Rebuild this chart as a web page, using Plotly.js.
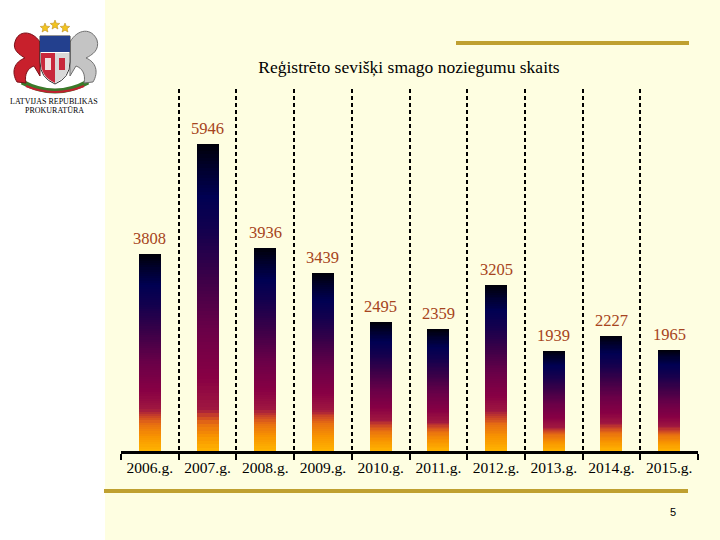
<!DOCTYPE html>
<html>
<head>
<meta charset="utf-8">
<script src="https://cdn.plot.ly/plotly-3.0.1.min.js"></script>
<style>
  html, body { margin: 0; padding: 0; background: #FEFEE1; }
  #chart { width: 720px; height: 540px; }
</style>
</head>
<body>
<div id="chart"></div>
<script>
// ---- data ----
const categories = ['2006.g.', '2007.g.', '2008.g.', '2009.g.', '2010.g.', '2011.g.', '2012.g.', '2013.g.', '2014.g.', '2015.g.'];
const values = [3808, 5946, 3936, 3439, 2495, 2359, 3205, 1939, 2227, 1965];
const labels = values.map(String);
const chartTitle = 'Reģistrēto sevišķi smago noziegumu skaits';
const orgLine1 = 'LATVIJAS REPUBLIKAS';
const orgLine2 = 'PROKURATŪRA';
const pageNumber = '5';

// ---- geometry helpers (pixel -> paper) ----
const L = 121, R = 698, T = 89, B = 451;
const W = R - L, H = B - T;
const px = x => (x - L) / W;
const py = y => (B - y) / H;
const P = (x, y) => px(x).toFixed(5) + ',' + py(y).toFixed(5);

// ---- gradient helpers ----
function hex2rgb(h) { return [parseInt(h.slice(1,3),16), parseInt(h.slice(3,5),16), parseInt(h.slice(5,7),16)]; }
function interp(stops, t) {
  t = Math.max(0, Math.min(1, t));
  for (let i = 0; i < stops.length - 1; i++) {
    const a = stops[i], b = stops[i+1];
    if (t >= a[0] && t <= b[0]) {
      const f = (t - a[0]) / (b[0] - a[0] || 1);
      const ca = hex2rgb(a[1]), cb = hex2rgb(b[1]);
      const c = ca.map((v, k) => Math.round(v + (cb[k] - v) * f));
      return 'rgb(' + c.join(',') + ')';
    }
  }
  return stops[stops.length-1][1];
}
const lowStops = [[0,'#FFB400'],[0.35,'#F89400'],[0.65,'#E87010'],[0.85,'#C84028'],[1,'#A01840']];
const highStops = [[0,'#A01840'],[0.12,'#880044'],[0.3,'#6A0048'],[0.5,'#3A0048'],[0.68,'#12004E'],[0.8,'#000052'],[0.9,'#000030'],[1,'#000008']];
function barColor(h, V) {
  const band = Math.min(0.24 * V, 800);
  if (h < band) return interp(lowStops, h / band);
  return interp(highStops, (h - band) / (V - band));
}

// ---- traces: each bar drawn as stacked slices to give a vertical gradient ----
const N = 90;
const traces = [];
for (let k = 0; k < N; k++) {
  traces.push({
    type: 'bar',
    x: categories,
    y: values.map(v => v / N),
    marker: {
      color: values.map(v => barColor((k + 0.5) / N * v, v)),
      line: { width: 0 }
    },
    hoverinfo: 'skip',
    showlegend: false
  });
}

// ---- decorative shapes ----
function star(cx, cy, r) {
  let d = '';
  for (let i = 0; i < 10; i++) {
    const a = -Math.PI / 2 + i * Math.PI / 5;
    const rr = i % 2 === 0 ? r : r * 0.45;
    d += (i === 0 ? 'M' : 'L') + P(cx + rr * Math.cos(a), cy + rr * Math.sin(a));
  }
  return d + 'Z';
}
const gold = '#BFA030';
const shapes = [
  { type: 'rect', xref: 'paper', yref: 'paper', x0: px(0), x1: px(105), y0: py(545), y1: py(-5), fillcolor: '#FFFFFF', line: { width: 0 }, layer: 'below' },
  { type: 'line', xref: 'paper', yref: 'paper', x0: px(456), x1: px(689), y0: py(43), y1: py(43), line: { color: gold, width: 4 } },
  { type: 'line', xref: 'paper', yref: 'paper', x0: px(104), x1: px(688), y0: py(491), y1: py(491), line: { color: gold, width: 4 } },
  // coat of arms (simplified)
  { type: 'path', xref: 'paper', yref: 'paper', path: 'M' + P(22,82) + 'Q' + P(55,100) + ' ' + P(88,82), line: { color: '#3A7A2A', width: 5 }, fillcolor: 'rgba(0,0,0,0)' },
  { type: 'path', xref: 'paper', yref: 'paper', path: 'M' + P(26,86) + 'Q' + P(55,98) + ' ' + P(84,86), line: { color: '#C02030', width: 2 }, fillcolor: 'rgba(0,0,0,0)' },
  { type: 'path', xref: 'paper', yref: 'paper', path: 'M' + P(40,42) + 'C' + P(32,30) + ' ' + P(18,30) + ' ' + P(15,42) + 'C' + P(12,50) + ' ' + P(20,55) + ' ' + P(25,58) + 'C' + P(14,62) + ' ' + P(11,72) + ' ' + P(17,82) + 'L' + P(26,83) + 'C' + P(24,74) + ' ' + P(28,68) + ' ' + P(34,66) + 'L' + P(40,76) + 'Z', fillcolor: '#C8202C', line: { color: '#7A1018', width: 1 } },
  { type: 'path', xref: 'paper', yref: 'paper', path: 'M' + P(70,42) + 'C' + P(78,28) + ' ' + P(92,28) + ' ' + P(97,40) + 'C' + P(100,50) + ' ' + P(92,55) + ' ' + P(86,58) + 'C' + P(96,62) + ' ' + P(99,72) + ' ' + P(93,82) + 'L' + P(84,83) + 'C' + P(86,74) + ' ' + P(82,68) + ' ' + P(76,66) + 'L' + P(70,76) + 'Z', fillcolor: '#C4C4C4', line: { color: '#707070', width: 1 } },
  { type: 'path', xref: 'paper', yref: 'paper', path: 'M' + P(40,36) + 'L' + P(70,36) + 'L' + P(70,62) + 'Q' + P(70,78) + ' ' + P(55,84) + 'Q' + P(40,78) + ' ' + P(40,62) + 'Z', fillcolor: '#FFFFFF', line: { color: '#333333', width: 1 } },
  { type: 'path', xref: 'paper', yref: 'paper', path: 'M' + P(40,36) + 'L' + P(70,36) + 'L' + P(70,52) + 'L' + P(40,52) + 'Z', fillcolor: '#23408E', line: { width: 0 } },
  { type: 'path', xref: 'paper', yref: 'paper', path: 'M' + P(46,52) + 'A8,8 0 0 1 ' + P(64,52) + 'Z', fillcolor: '#F2C420', line: { width: 0 } },
  { type: 'path', xref: 'paper', yref: 'paper', path: 'M' + P(41,53) + 'L' + P(55,53) + 'L' + P(55,83) + 'Q' + P(41,77) + ' ' + P(41,62) + 'Z', fillcolor: '#C8283C', line: { width: 0 } },
  { type: 'path', xref: 'paper', yref: 'paper', path: 'M' + P(55,53) + 'L' + P(69,53) + 'L' + P(69,62) + 'Q' + P(69,77) + ' ' + P(55,83) + 'Z', fillcolor: '#D8D8D8', line: { width: 0 } },
  { type: 'path', xref: 'paper', yref: 'paper', path: 'M' + P(45,58) + 'L' + P(51,58) + 'L' + P(51,70) + 'L' + P(45,70) + 'Z', fillcolor: '#F0E0E0', line: { width: 0 } },
  { type: 'path', xref: 'paper', yref: 'paper', path: 'M' + P(59,58) + 'L' + P(65,58) + 'L' + P(65,70) + 'L' + P(59,70) + 'Z', fillcolor: '#C8283C', line: { width: 0 } },
  { type: 'path', xref: 'paper', yref: 'paper', path: star(45, 28, 5), fillcolor: '#F2C420', line: { color: '#B08010', width: 0.5 } },
  { type: 'path', xref: 'paper', yref: 'paper', path: star(55, 25, 5), fillcolor: '#F2C420', line: { color: '#B08010', width: 0.5 } },
  { type: 'path', xref: 'paper', yref: 'paper', path: star(65, 28, 5), fillcolor: '#F2C420', line: { color: '#B08010', width: 0.5 } }
];

const annotations = [
  { xref: 'paper', yref: 'paper', x: px(54), y: py(101), text: orgLine1, showarrow: false, xanchor: 'center', yanchor: 'middle', font: { family: 'Liberation Serif', size: 8, color: '#000000' } },
  { xref: 'paper', yref: 'paper', x: px(54), y: py(111), text: orgLine2, showarrow: false, xanchor: 'center', yanchor: 'middle', font: { family: 'Liberation Serif', size: 8, color: '#000000' } },
  { xref: 'paper', yref: 'paper', x: px(673), y: py(512), text: pageNumber, showarrow: false, xanchor: 'center', yanchor: 'middle', font: { family: 'Liberation Sans', size: 11, color: '#000000' } }
];
// value labels above bars, positioned from the data
categories.forEach((c, i) => {
  annotations.push({
    xref: 'x', yref: 'y', x: c, y: values[i], text: labels[i], showarrow: false,
    xanchor: 'center', yanchor: 'bottom', yshift: 4,
    font: { family: 'Liberation Serif', size: 16.5, color: '#A64420' }
  });
});

const layout = {
  width: 720,
  height: 540,
  paper_bgcolor: '#FEFEE1',
  plot_bgcolor: 'rgba(0,0,0,0)',
  margin: { l: L, r: 720 - R, t: T, b: 540 - B, pad: 0 },
  barmode: 'stack',
  bargap: 0.62,
  showlegend: false,
  title: {
    text: chartTitle,
    x: 409 / 720,
    xanchor: 'center',
    y: 1 - 67 / 540,
    yanchor: 'middle',
    font: { family: 'Liberation Serif', size: 17.5, color: '#000000' }
  },
  xaxis: {
    type: 'category',
    tickson: 'boundaries',
    showgrid: true,
    gridcolor: '#000000',
    gridwidth: 2,
    griddash: '4px,3px',
    showline: true,
    linecolor: '#000000',
    linewidth: 3,
    ticks: 'outside',
    ticklen: 6,
    tickwidth: 2,
    tickcolor: '#000000',
    tickfont: { family: 'Liberation Serif', size: 15.5, color: '#000000' },
    fixedrange: true,
    zeroline: false
  },
  yaxis: {
    range: [0, 7010],
    showgrid: false,
    showticklabels: false,
    zeroline: false,
    showline: false,
    ticks: '',
    fixedrange: true
  },
  shapes: shapes,
  annotations: annotations
};

Plotly.newPlot('chart', traces, layout, { displayModeBar: false, staticPlot: true });
</script>
</body>
</html>
